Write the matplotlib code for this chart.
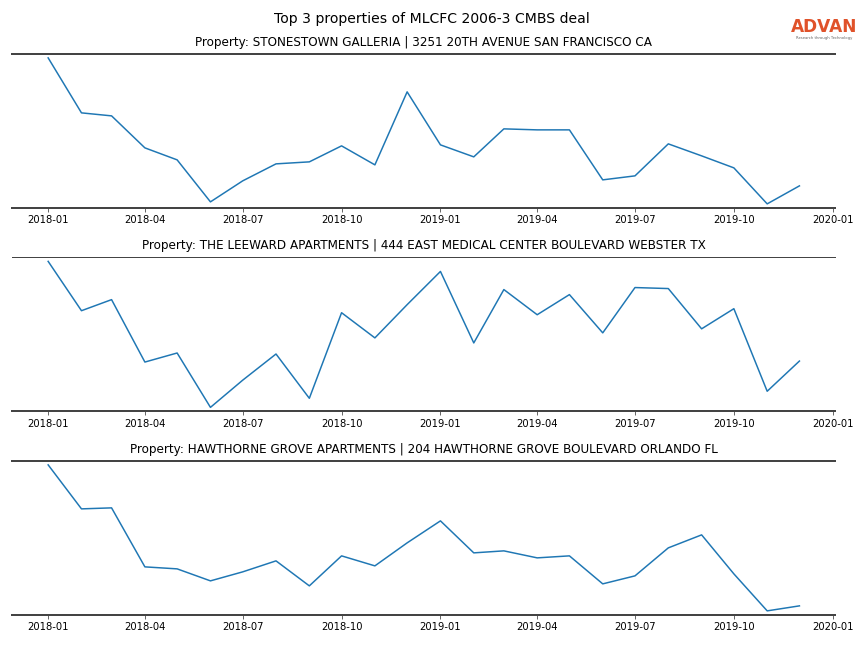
import matplotlib
matplotlib.use("Agg")
import matplotlib.pyplot as plt
import matplotlib.dates as mdates
import pandas as pd

months = pd.date_range("2018-01-01", "2019-12-01", freq="MS")

titles = [
    "Property: STONESTOWN GALLERIA | 3251 20TH AVENUE SAN FRANCISCO CA",
    "Property: THE LEEWARD APARTMENTS | 444 EAST MEDICAL CENTER BOULEVARD WEBSTER TX",
    "Property: HAWTHORNE GROVE APARTMENTS | 204 HAWTHORNE GROVE BOULEVARD ORLANDO FL",
]

# relative foot traffic (arbitrary units)
stonestown = [152, 97, 94, 62, 50, 8, 29, 46, 48, 64, 45, 118, 65, 53, 81,
              80, 80, 30, 34, 66, 54, 42, 6, 24]
leeward = [150, 101, 112, 50, 59, 5, 32, 58, 14, 99, 74, 107, 140, 69, 122,
           97, 117, 79, 124, 123, 83, 103, 21, 51]
hawthorne = [148, 104, 105, 46, 44, 32, 41, 52, 27, 57, 47, 70, 92, 60, 62,
             55, 57, 29, 37, 65, 78, 39, 2, 7]

series = [stonestown, leeward, hawthorne]

fig, axes = plt.subplots(3, 1, figsize=(12, 9), dpi=72)
fig.subplots_adjust(left=0.014, right=0.967, top=0.917, bottom=0.051, hspace=0.32)

for i, (ax, vals, title) in enumerate(zip(axes, series, titles)):
    ax.plot(months, vals, color="#1f77b4", linewidth=1.5)
    ax.margins(x=0.048, y=0.028)
    ax.set_title(title, fontsize=12, pad=8)
    ax.spines["left"].set_visible(False)
    ax.spines["right"].set_visible(False)
    for s in ("top", "bottom"):
        ax.spines[s].set_color("#444444")
        ax.spines[s].set_linewidth(2)
    if i == 1:
        ax.spines["top"].set_linewidth(1)
    ax.set_yticks([])
    ax.xaxis.set_major_locator(mdates.MonthLocator(bymonth=[1, 4, 7, 10]))
    ax.xaxis.set_major_formatter(mdates.DateFormatter("%Y-%m"))
    ax.tick_params(axis="x", labelsize=10, length=4, color="#444444")

fig.suptitle("Top 3 properties of MLCFC 2006-3 CMBS deal", fontsize=14, y=0.981)

# logo
fig.text(0.954, 0.958, "ADVAN", color="#e0522a", fontsize=17, ha="center",
         va="center", fontweight="bold")
fig.text(0.954, 0.941, "Research through Technology", color="#666666",
         fontsize=3.8, ha="center", va="center")

fig.savefig("out.png", dpi=72)
